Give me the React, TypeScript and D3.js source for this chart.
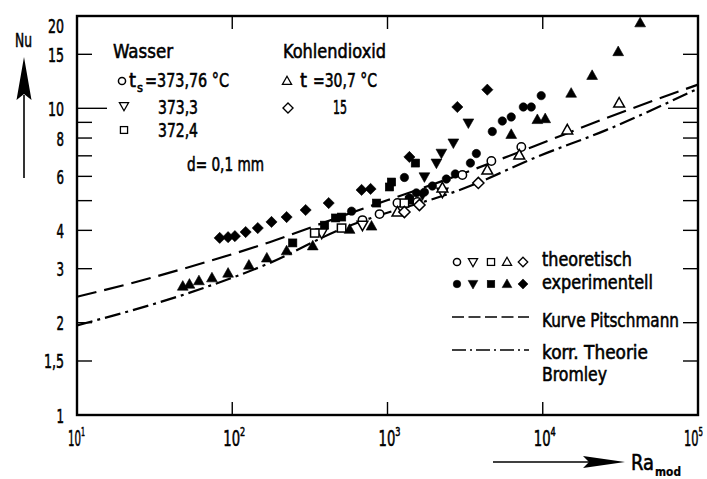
import React from "react";
import * as d3 from "d3";

const FONT = "'Liberation Sans Narrow','DejaVu Sans Condensed','Arial Narrow',sans-serif";

// ---- axes ----
const yTickValues = [1, 1.5, 2, 3, 4, 5, 6, 7, 8, 9, 10, 15, 20];
const yLabelValues = [1, 1.5, 2, 3, 4, 6, 8, 10, 15, 20];
const yLabelTexts = ["1", "1,5", "2", "3", "4", "6", "8", "10", "15", "20"];
const xTickValues = [100, 1000, 10000];
const xLabelValues = [10, 100, 1000, 10000, 100000];
const xLabelExponents = ["1", "2", "3", "4", "5"];

// ---- Wasser ts = 373,76 °C (circle) ----
const w1Theo: [number, number][] = [[690, 4.32], [889, 4.52], [1159, 4.91], [1558, 4.95], [3036, 6.06], [4667, 6.73], [7278, 7.48]];
const w1Exp: [number, number][] = [[587, 4.62], [1285, 5.95], [1384, 5.1], [1535, 5.3], [1729, 5.33], [1946, 5.58], [2394, 5.88], [2735, 6.11], [3420, 6.63], [3735, 7.12], [4732, 8.4], [5490, 9.09], [6266, 9.37], [7500, 10.1], [8433, 10.1], [9775, 11.0]];
// ---- Wasser 373,3 (triangle down) ----
const w2Theo: [number, number][] = [[377, 3.92], [690, 4.16], [2258, 5.33]];
const w2Exp: [number, number][] = [[1679, 5.22], [1729, 5.98], [2066, 6.63], [2225, 7.14], [2656, 7.71], [3318, 8.96]];
// ---- Wasser 372,4 (square) ----
const w3Theo: [number, number][] = [[340, 3.92], [506, 4.07], [1285, 4.91]];
const w3Exp: [number, number][] = [[245, 3.64], [393, 4.16], [463, 4.39], [506, 4.42], [850, 4.91], [1030, 5.54], [1061, 5.75], [1384, 5.02], [1513, 6.63]];
// ---- Kohlendioxid 30,7 °C (triangle up) ----
const c1Theo: [number, number][] = [[1159, 4.59], [2258, 5.5], [4395, 6.29], [7063, 7.04], [14390, 8.5], [31050, 10.4]];
const c1Exp: [number, number][] = [[48, 2.63], [53, 2.67], [61, 2.74], [74, 2.8], [94, 2.9], [128, 3.08], [167, 3.25], [224, 3.43], [330, 3.56], [570, 4.03], [789, 4.13], [6266, 8.22], [9230, 9.19], [10370, 9.25], [15240, 11.2], [20800, 12.8], [30620, 15.3], [42400, 19.0]];
// ---- Kohlendioxid 15 °C (diamond) ----
const c2Theo: [number, number][] = [[1285, 4.59], [1606, 4.84], [3846, 5.71]];
const c2Exp: [number, number][] = [[83, 3.78], [94, 3.8], [104, 3.83], [122, 3.95], [146, 4.07], [179, 4.26], [224, 4.42], [297, 4.66], [418, 4.91], [681, 5.42], [778, 5.46], [1384, 6.94], [2818, 10.1], [4395, 11.5]];

// ---- curves ----
const pitschmann: [number, number][] = [[10, 2.43], [24.3, 2.72], [64.6, 3.13], [174, 3.66], [470, 4.39], [2904, 6.07], [8551, 7.48], [25590, 9.29], [100000, 11.95]];
const bromley: [number, number][] = [[10, 1.96], [64.6, 2.59], [174, 3.13], [470, 3.98], [3524, 5.62], [9078, 6.93], [25590, 8.49], [100000, 11.6]];

type Shape = "circle" | "down" | "square" | "up" | "diamond";

const series: { data: [number, number][]; shape: Shape; filled: boolean }[] = [
  { data: w1Exp, shape: "circle", filled: true },
  { data: w2Exp, shape: "down", filled: true },
  { data: w3Exp, shape: "square", filled: true },
  { data: c1Exp, shape: "up", filled: true },
  { data: c2Exp, shape: "diamond", filled: true },
  { data: w1Theo, shape: "circle", filled: false },
  { data: w2Theo, shape: "down", filled: false },
  { data: w3Theo, shape: "square", filled: false },
  { data: c1Theo, shape: "up", filled: false },
  { data: c2Theo, shape: "diamond", filled: false },
];

const L = 77, R = 698, T = 16, B = 415;
const x = d3.scaleLog().domain([10, 100000]).range([L, R]);
const y = d3.scaleLog().domain([1, 20]).range([B, T]);

function Marker({ shape, filled, cx, cy, k = 1 }: { shape: Shape; filled: boolean; cx: number; cy: number; k?: number }) {
  const fill = filled ? "#000" : "#fff";
  const sw = filled ? 0.6 : 1.5;
  const common = { fill, stroke: "#000", strokeWidth: sw };
  const t = `translate(${cx},${cy}) scale(${k})`;
  if (shape === "circle") return <circle cx={cx} cy={cy} r={4.2 * k} {...common} />;
  if (shape === "square") return <rect transform={t} x={-4.2} y={-4} width={8.4} height={8} {...common} />;
  if (shape === "up") return <path transform={t} d="M0,-5.6L5.4,4L-5.4,4Z" {...common} strokeLinejoin="miter" />;
  if (shape === "down") return <path transform={t} d="M0,5.6L5.4,-4L-5.4,-4Z" {...common} strokeLinejoin="miter" />;
  return <path transform={t} d="M0,-5.6L5.6,0L0,5.6L-5.6,0Z" {...common} />;
}

function Txt({ x: tx, y: ty, s, size = 19, tl, anchor = "start", weight = "normal" }: { x: number; y: number; s: string; size?: number; tl?: number; anchor?: string; weight?: string }) {
  return (
    <text x={tx} y={ty} fontSize={size} fontFamily={FONT} textAnchor={anchor} fontWeight={weight} fill="#000"
      stroke="#000" strokeWidth={weight === "bold" ? 0.2 : 0.55}
      {...(tl ? { textLength: tl, lengthAdjust: "spacingAndGlyphs" } : {})}>
      {s}
    </text>
  );
}

export default function App() {
  const line = d3.line<[number, number]>().x((d) => x(d[0])).y((d) => y(d[1])).curve(d3.curveMonotoneX);
  const legendShapes: Shape[] = ["circle", "down", "square", "up", "diamond"];
  const legendXs = [457, 473, 491, 507, 523];
  return (
    <svg width={707} height={479} style={{ position: "absolute", left: 0, top: 0, background: "#fff" }}>
      <rect x={0} y={0} width={707} height={479} fill="#fff" />
      {/* curves */}
      <path d={line(pitschmann) || ""} fill="none" stroke="#000" strokeWidth={2.2} strokeDasharray="20 8" />
      <path d={line(bromley) || ""} fill="none" stroke="#000" strokeWidth={2.2} strokeDasharray="16 5 3 5" />
      {/* markers */}
      {series.map((s, i) => (
        <g key={i}>
          {s.data.map((d, j) => (
            <Marker key={j} shape={s.shape} filled={s.filled} cx={x(d[0])} cy={y(d[1])} />
          ))}
        </g>
      ))}
      {/* frame */}
      <rect x={L} y={T} width={R - L} height={B - T} fill="none" stroke="#000" strokeWidth={2.4} />
      {/* y ticks */}
      {yTickValues.filter((v) => v > 1 && v < 20).map((v) => {
        const len = v === 10 ? 30 : 15;
        return (
          <g key={v}>
            <line x1={L} x2={L + len} y1={y(v)} y2={y(v)} stroke="#000" strokeWidth={1.4} />
            <line x1={R} x2={R - len} y1={y(v)} y2={y(v)} stroke="#000" strokeWidth={1.4} />
          </g>
        );
      })}
      {/* x ticks */}
      {xTickValues.map((v) => (
        <g key={v}>
          <line x1={x(v)} x2={x(v)} y1={B} y2={B - 13} stroke="#000" strokeWidth={1.4} />
          <line x1={x(v)} x2={x(v)} y1={T} y2={T + 13} stroke="#000" strokeWidth={1.4} />
        </g>
      ))}
      {/* y labels */}
      {yLabelValues.map((v, i) => {
        const s = yLabelTexts[i];
        const w = s.length === 1 ? 7.5 : s.length === 2 ? 16 : 20;
        const by = v === 20 ? 33 : y(v) + 7.5;
        return <Txt key={v} x={64} y={by} s={s} size={20} tl={w} anchor="end" />;
      })}
      {/* x labels: 10 with superscript exponent in one text */}
      {xLabelValues.map((v, i) => {
        const last = i === xLabelValues.length - 1;
        const sx = x(v) - (last ? 14 : 9);
        const len = xLabelExponents[i] === "1" ? 17 : last ? 19 : 22;
        return (
          <text key={v} x={sx} y={446} fontSize={21} fontFamily={FONT} fill="#000" stroke="#000" strokeWidth={0.55}
            textLength={len} lengthAdjust="spacingAndGlyphs">
            10
            <tspan dy={-10} fontSize={13}>{xLabelExponents[i]}</tspan>
          </text>
        );
      })}
      {/* axis titles */}
      <Txt x={15} y={47} s="Nu" size={20} tl={17} />
      <line x1={24} x2={24} y1={178} y2={95} stroke="#000" strokeWidth={1.6} />
      <path d="M24,57L31.5,100L24,94L16.5,100Z" fill="#000" />
      <line x1={493} x2={590} y1={462} y2={462} stroke="#000" strokeWidth={1.6} />
      <path d="M625,462L583,456L589,462L583,468Z" fill="#000" />
      <Txt x={631} y={470} s="Ra" size={21} tl={23} />
      <Txt x={655} y={476} s="mod" size={12} tl={26} weight="bold" />

      {/* top-left legend */}
      <Txt x={113} y={58} s="Wasser" size={20} tl={60} />
      <Txt x={283} y={58} s="Kohlendioxid" size={20} tl={103} />
      <Marker shape="circle" filled={false} cx={122} cy={81} k={0.85} />
      <Txt x={129} y={87} s="t" size={19} tl={7} />
      <Txt x={137} y={92} s="s" size={13} tl={6} />
      <Txt x={145} y={87} s="=373,76 °C" size={19} tl={84} />
      <Marker shape="down" filled={false} cx={124} cy={106} k={0.85} />
      <Txt x={158} y={114} s="373,3" size={19} tl={40} />
      <Marker shape="square" filled={false} cx={124} cy={130} k={0.85} />
      <Txt x={158} y={137} s="372,4" size={19} tl={40} />
      <Txt x={187} y={171} s="d= 0,1 mm" size={19} tl={77} />
      <Marker shape="up" filled={false} cx={287} cy={81} k={0.85} />
      <Txt x={300} y={87} s="t" size={19} tl={7} />
      <Txt x={313} y={87} s="=30,7 °C" size={19} tl={64} />
      <Marker shape="diamond" filled={false} cx={288} cy={108} k={0.9} />
      <Txt x={333} y={114} s="15" size={19} tl={14} />

      {/* bottom-right legend */}
      {legendShapes.map((sh, i) => (
        <g key={sh}>
          <Marker shape={sh} filled={false} cx={legendXs[i]} cy={262} k={0.85} />
          <Marker shape={sh} filled={true} cx={legendXs[i]} cy={284} k={0.9} />
        </g>
      ))}
      <Txt x={542} y={266} s="theoretisch" size={19} tl={90} />
      <Txt x={542} y={289} s="experimentell" size={19} tl={111} />
      <line x1={452} x2={529} y1={317} y2={317} stroke="#000" strokeWidth={1.5} strokeDasharray="12 4.5" />
      <Txt x={542} y={327} s="Kurve Pitschmann" size={19} tl={137} />
      <line x1={452} x2={529} y1={350} y2={350} stroke="#000" strokeWidth={1.5} strokeDasharray="14 4 2 4" />
      <Txt x={542} y={359} s="korr. Theorie" size={19} tl={106} />
      <Txt x={542} y={381} s="Bromley" size={19} tl={65} />
    </svg>
  );
}
